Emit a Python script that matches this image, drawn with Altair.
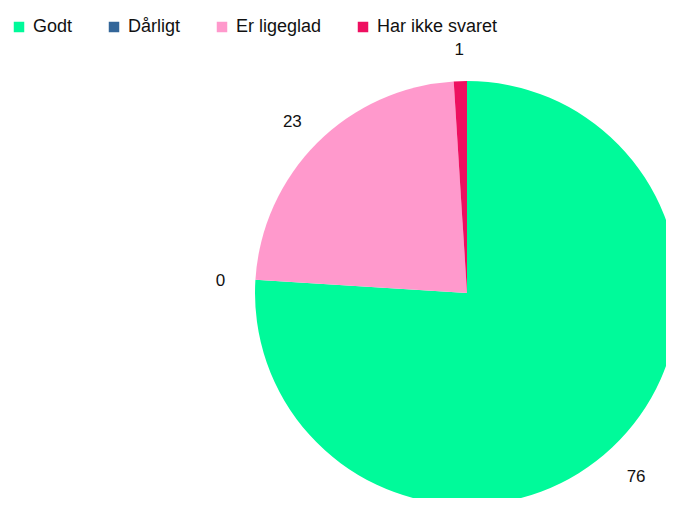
import altair as alt
import pandas as pd

categories = ["Godt", "Dårligt", "Er ligeglad", "Har ikke svaret"]
values = [76, 0, 23, 1]
colors = ["#00FA9A", "#336699", "#FF99CC", "#EE1060"]

df = pd.DataFrame({"cat": categories, "val": values, "ord": list(range(len(categories)))})

base = alt.Chart(df).encode(
    theta=alt.Theta("val:Q", stack=True),
    order=alt.Order("ord:Q"),
    x=alt.value(459),
    y=alt.value(285),
)

pie = base.mark_arc(radius=212).encode(
    color=alt.Color(
        "cat:N",
        scale=alt.Scale(domain=categories, range=colors),
        sort=categories,
        legend=alt.Legend(
            title=None,
            orient="none",
            legendX=2,
            legendY=10,
            direction="horizontal",
            symbolType="square",
            symbolSize=110,
            symbolStrokeWidth=0,
            labelFont="Liberation Sans",
            labelFontSize=18,
            labelColor="#111111",
            columnPadding=32,
            labelOffset=5,
        ),
    )
)

labels = base.mark_text(radius=247, dy=4, font="Liberation Sans", fontSize=17, color="#111111").encode(
    text=alt.Text("val:Q")
)

chart = (
    alt.layer(pie, labels)
    .properties(width=658, height=490, autosize=alt.AutoSizeParams(type="none"), padding=0)
    .configure_view(stroke=None)
)

chart.save("out.html", embed_options={"renderer": "svg", "actions": False})
